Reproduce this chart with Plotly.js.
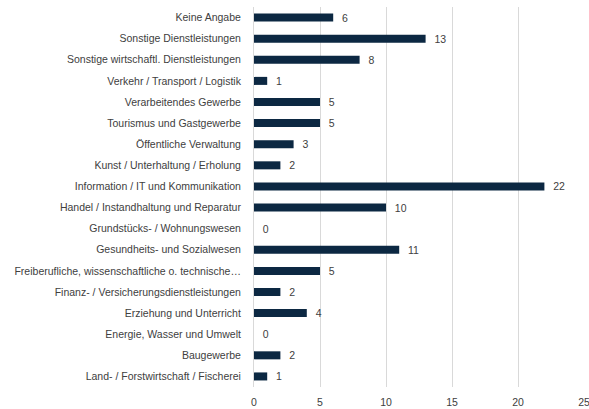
<!DOCTYPE html>
<html><head><meta charset="utf-8">
<script src="https://cdn.plot.ly/plotly-3.0.1.min.js"></script>
<style>html,body{margin:0;padding:0;background:#fff}#chart{width:589px;height:409px}</style>
</head><body><div id="chart"></div>
<script>
const categories = [
  "Keine Angabe",
  "Sonstige Dienstleistungen",
  "Sonstige wirtschaftl. Dienstleistungen",
  "Verkehr / Transport / Logistik",
  "Verarbeitendes Gewerbe",
  "Tourismus und Gastgewerbe",
  "Öffentliche Verwaltung",
  "Kunst / Unterhaltung / Erholung",
  "Information / IT und Kommunikation",
  "Handel / Instandhaltung und Reparatur",
  "Grundstücks- / Wohnungswesen",
  "Gesundheits- und Sozialwesen",
  "Freiberufliche, wissenschaftliche o. technische…",
  "Finanz- / Versicherungsdienstleistungen",
  "Erziehung und Unterricht",
  "Energie, Wasser und Umwelt",
  "Baugewerbe",
  "Land- / Forstwirtschaft / Fischerei"
];
const values = [6, 13, 8, 1, 5, 5, 3, 2, 22, 10, 0, 11, 5, 2, 4, 0, 2, 1];
const xTicks = [0, 5, 10, 15, 20, 25];

const font = "Liberation Sans, Arial, sans-serif";
Plotly.newPlot("chart", [{
  type: "bar",
  orientation: "h",
  y: categories,
  x: values,
  marker: {color: "#0c2842"},
  text: values.map(v => "  " + v),
  textposition: "outside",
  constraintext: "none",
  cliponaxis: false,
  textfont: {family: font, size: 10.5, color: "#404040"},
  hoverinfo: "none"
}], {
  width: 589, height: 409,
  margin: {l: 254, r: 5, t: 7, b: 22},
  paper_bgcolor: "#fff", plot_bgcolor: "#fff",
  bargap: 0.62,
  showlegend: false,
  font: {family: font, size: 10, color: "#404040"},
  xaxis: {
    range: [0, 25], tickvals: xTicks, ticktext: xTicks.map(String),
    showgrid: true, gridcolor: "#d9d9d9", gridwidth: 1,
    zeroline: false, showline: false,
    ticks: "outside", ticklen: 5, tickcolor: "rgba(0,0,0,0)",
    ticklabeloverflow: "allow",
    tickfont: {family: font, size: 10.5, color: "#404040"},
    fixedrange: true
  },
  yaxis: {
    type: "category", autorange: "reversed",
    showgrid: false, zeroline: false,
    showline: true, linecolor: "#d9d9d9", linewidth: 1,
    ticks: "outside", ticklen: 10, tickcolor: "rgba(0,0,0,0)",
    tickfont: {family: font, size: 10.5, color: "#404040"},
    automargin: false, fixedrange: true
  }
}, {staticPlot: true, displayModeBar: false});
</script></body></html>
